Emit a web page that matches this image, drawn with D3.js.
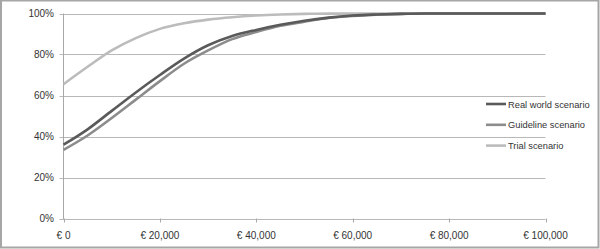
<!DOCTYPE html>
<html><head><meta charset="utf-8">
<script src="https://cdn.jsdelivr.net/npm/d3@7"></script>
<style>body{margin:0;background:#fff}svg{display:block}</style>
</head><body>
<svg id="c" width="600" height="249"></svg>
<script>
const xValues = [0,5000,10000,15000,20000,25000,30000,35000,40000,45000,50000,55000,60000,65000,70000,75000,80000,85000,90000,95000,100000];
const realWorld = [36,43.5,52.5,61.5,70,78,84.5,89,92,94.5,96.5,98,99,99.5,99.8,100,100,100,100,100,100];
const guideline = [33.5,40.5,49,58,67,75.5,82,87.5,91,94,96,97.8,98.8,99.4,99.8,100,100,100,100,100,100];
const trial = [65.5,74,82,88,92.5,95.2,97,98.2,99,99.5,99.8,100,100,100,100,100,100,100,100,100,100];
const seriesNames = ["Real world scenario","Guideline scenario","Trial scenario"];
const seriesColors = ["#5a5a5a","#8c8c8c","#bcbcbc"];
const xTicks = [0,20000,40000,60000,80000,100000];
const yTicks = [0,20,40,60,80,100];

const svg = d3.select("#c");
svg.append("rect").attr("x",1).attr("y",0.5).attr("width",597.5).attr("height",247)
  .attr("fill","#fff").attr("stroke","#a6a6a6").attr("stroke-width",2);

const x = d3.scaleLinear().domain([0,100000]).range([63.5,545.5]);
const y = d3.scaleLinear().domain([0,100]).range([218.5,13.5]);
const font = "Liberation Sans, Arial, sans-serif";

const g = svg.append("g");
g.selectAll("line.grid").data(yTicks).join("line")
  .attr("x1",59.5).attr("x2",x(100000)).attr("y1",d=>Math.round(y(d))+0.5).attr("y2",d=>Math.round(y(d))+0.5)
  .attr("stroke","#b8b8b8").attr("stroke-width",1);
g.append("line").attr("x1",63.5).attr("x2",63.5).attr("y1",y(100)).attr("y2",y(0)+0.5).attr("stroke","#a8a8a8");
g.selectAll("line.xt").data(xTicks).join("line")
  .attr("x1",d=>Math.round(x(d))+0.5).attr("x2",d=>Math.round(x(d))+0.5).attr("y1",y(0)).attr("y2",y(0)+4)
  .attr("stroke","#a8a8a8");
g.selectAll("text.yl").data(yTicks).join("text")
  .attr("x",54).attr("y",d=>y(d)+3.5).attr("text-anchor","end")
  .attr("font-family",font).attr("font-size",10).attr("fill","#333")
  .text(d=>d+"%");
const fmt = d3.format(",");
g.selectAll("text.xl").data(xTicks).join("text")
  .attr("x",d=>x(d)).attr("y",239).attr("text-anchor","middle")
  .attr("font-family",font).attr("font-size",10).attr("fill","#333")
  .text(d=>"€ "+fmt(d));

const allSeries = [realWorld,guideline,trial];
const line = d3.line().x((d,i)=>x(xValues[i])).y(d=>y(d)).curve(d3.curveMonotoneX);
[2,1,0].forEach(k=>{
  svg.append("path").attr("d",line(allSeries[k])).attr("fill","none")
    .attr("stroke",seriesColors[k]).attr("stroke-width",2.6).attr("stroke-linejoin","round");
});

const leg = svg.append("g");
seriesNames.forEach((n,i)=>{
  const ly = 104 + i*20.8;
  leg.append("line").attr("x1",486).attr("x2",506).attr("y1",ly).attr("y2",ly)
    .attr("stroke",seriesColors[i]).attr("stroke-width",2.6);
  leg.append("text").attr("x",508).attr("y",ly+3.5).attr("font-family",font).attr("font-size",9.3)
    .attr("fill","#333").text(n);
});
</script>
</body></html>
